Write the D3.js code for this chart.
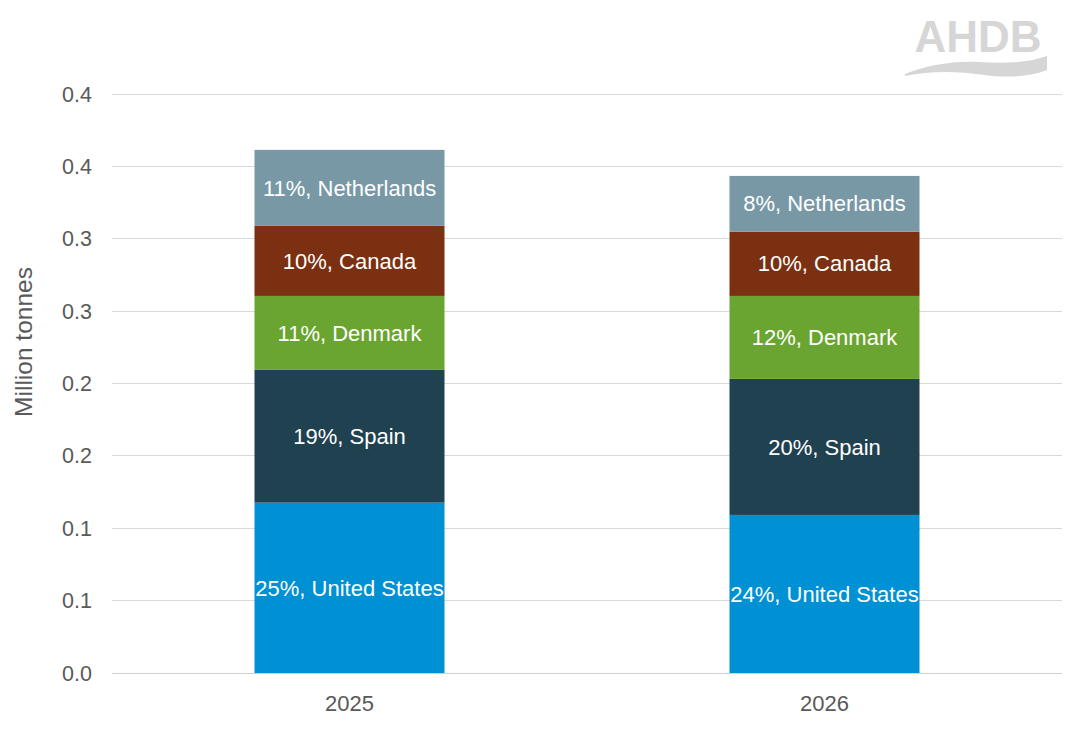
<!DOCTYPE html>
<html><head><meta charset="utf-8">
<script src="https://cdn.jsdelivr.net/npm/d3@7"></script>
<style>
html,body{margin:0;padding:0;background:#fff;}
text{font-family:"Liberation Sans",Arial,sans-serif;}
</style></head>
<body><svg id="chart" width="1083" height="748"></svg>
<script>
const years = ["2025", "2026"];
const countries = ["United States", "Spain", "Denmark", "Canada", "Netherlands"];
const usValues = [0.1177, 0.1092];
const spainValues = [0.0917, 0.0940];
const denmarkValues = [0.0511, 0.0573];
const canadaValues = [0.0484, 0.0444];
const netherlandsValues = [0.0525, 0.0385];
const shareLabels = {
  "United States": ["25%", "24%"],
  "Spain": ["19%", "20%"],
  "Denmark": ["11%", "12%"],
  "Canada": ["10%", "10%"],
  "Netherlands": ["11%", "8%"]
};
const tickValues = [0, 0.05, 0.1, 0.15, 0.2, 0.25, 0.3, 0.35, 0.4];
const tickLabels = ["0.0", "0.1", "0.1", "0.2", "0.2", "0.3", "0.3", "0.4", "0.4"];
const colors = ["#0090d4", "#1f4150", "#6ba531", "#7b3011", "#7898a6"];

const seriesValues = [usValues, spainValues, denmarkValues, canadaValues, netherlandsValues];
const rows = years.map((yr, i) => {
  const r = {year: yr};
  countries.forEach((c, k) => r[c] = seriesValues[k][i]);
  return r;
});

const svg = d3.select("#chart");
const plotLeft = 112, plotRight = 1062, plotTop = 94, plotBottom = 673;

const x = d3.scaleBand().domain(years).range([plotLeft, plotRight]).paddingInner(0.6).paddingOuter(0.3);
const y = d3.scaleLinear().domain([0, 0.4]).range([plotBottom, plotTop]);

// gridlines
svg.append("g").selectAll("line").data(tickValues).join("line")
  .attr("x1", plotLeft).attr("x2", plotRight)
  .attr("y1", d => y(d)).attr("y2", d => y(d))
  .attr("stroke", d => d === 0 ? "#d0d0d0" : "#d9d9d9").attr("stroke-width", 1)
  .attr("shape-rendering", "crispEdges");

// y tick labels
svg.append("g").selectAll("text").data(tickValues).join("text")
  .attr("x", 92).attr("y", d => y(d)).attr("dy", "0.35em")
  .attr("text-anchor", "end").attr("font-size", 21.5).attr("fill", "#595959")
  .text((d, i) => tickLabels[i]);

// x labels
svg.append("g").selectAll("text").data(years).join("text")
  .attr("x", d => x(d) + x.bandwidth() / 2).attr("y", 703).attr("dy", "0.35em")
  .attr("text-anchor", "middle").attr("font-size", 22).attr("fill", "#595959")
  .text(d => d);

// axis title
svg.append("text")
  .attr("transform", "translate(32,342) rotate(-90)")
  .attr("text-anchor", "middle").attr("font-size", 24.5).attr("fill", "#595959")
  .text("Million tonnes");

const stack = d3.stack().keys(countries);
const series = stack(rows);

const g = svg.append("g");
series.forEach((s, k) => {
  const sg = g.append("g").attr("fill", colors[k]);
  sg.selectAll("rect").data(s).join("rect")
    .attr("x", d => x(d.data.year))
    .attr("width", x.bandwidth())
    .attr("y", d => y(d[1]))
    .attr("height", d => y(d[0]) - y(d[1]));
});
series.forEach((s, k) => {
  g.append("g").selectAll("text").data(s).join("text")
    .attr("x", d => x(d.data.year) + x.bandwidth() / 2)
    .attr("y", d => (y(d[0]) + y(d[1])) / 2)
    .attr("dy", "0.35em")
    .attr("text-anchor", "middle").attr("font-size", 22).attr("fill", "#ffffff")
    .text((d, i) => shareLabels[countries[k]][i] + ", " + countries[k]);
});

// AHDB logo
const logo = svg.append("g");
logo.append("text").attr("x", 978).attr("y", 52).attr("text-anchor", "middle")
  .attr("font-size", 44).attr("font-weight", "bold")
  .attr("fill", "#d6d6d6").text("AHDB");
logo.append("path")
  .attr("d", "M905,74 C925,66 950,61 978,62 C1000,63 1025,64 1047,56 L1047,70 C1030,77 1005,78 985,75 C955,71 930,71 905,76 Z")
  .attr("fill", "#d6d6d6");
</script>
</body></html>
